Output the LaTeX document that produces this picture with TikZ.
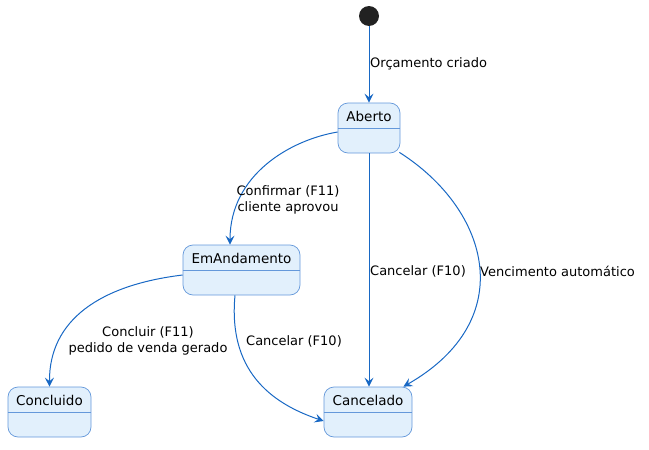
\documentclass[tikz,border=0pt]{standalone}
\usepackage{fontspec}
\setmainfont{DejaVu Sans}
\usetikzlibrary{arrows.meta}
\definecolor{sfill}{RGB}{226,240,252}
\definecolor{sborder}{RGB}{100,152,218}
\definecolor{sline}{RGB}{24,104,196}
\begin{document}
\begin{tikzpicture}[x=1pt,y=-1pt,
  statebox/.style={draw=sborder, fill=sfill, rounded corners=10pt, minimum height=50pt, inner sep=0pt, line width=0.7pt},
  stitle/.style={font=\fontsize{13.5}{16}\selectfont, inner sep=0pt, anchor=center},
  sep/.style={draw=sborder, line width=0.7pt},
  edge/.style={draw=sline, line width=1pt, -{Stealth[length=9pt,width=9pt,inset=3.5pt]}},
  elabel/.style={font=\fontsize{13}{16}\selectfont, inner sep=0pt, align=center}]
\useasboundingbox (0,0) rectangle (649,450);
% initial
\node[circle, fill={rgb,255:red,34;green,34;blue,34}, minimum size=20pt, inner sep=0pt] (init) at (369,16) {};
% states
\node[statebox, minimum width=62pt] (ab) at (369,128) {};
\draw[sep] (ab.west) -- (ab.east);
\node[stitle] (abt) at (369,116) {Aberto};
\node[statebox, minimum width=117pt] (em) at (241.5,270) {};
\draw[sep] (em.west) -- (em.east);
\node[stitle] (emt) at (241.5,258) {EmAndamento};
\node[statebox, minimum width=83pt] (co) at (49.5,412) {};
\draw[sep] (co.west) -- (co.east);
\node[stitle] (cot) at (49.5,400) {Concluido};
\node[statebox, minimum width=88pt] (ca) at (368,412) {};
\draw[sep] (ca.west) -- (ca.east);
\node[stitle] (cat) at (368,400) {Cancelado};
% coordinates
\coordinate (abw) at ([yshift=-4pt]ab.west);
\coordinate (abs) at (ab.south);
\coordinate (abse) at ([xshift=-1pt,yshift=1pt]ab.south east);
\coordinate (emn) at ([xshift=-11.5pt]em.north);
\coordinate (emw) at ([yshift=-5pt]em.west);
\coordinate (ems) at ([xshift=-6.5pt]em.south);
\coordinate (con) at (co.north);
\coordinate (can) at (ab.south |- ca.north);
\coordinate (cane) at ([xshift=-9pt]ca.north east);
\coordinate (caw) at ([yshift=-9pt]ca.west);
% edges
\draw[edge] (init) -- (ab);
\node[elabel, anchor=west] (l1) at (370,64) {Orçamento criado};
\draw[edge] (abw) .. controls (290,140) and (230,175) .. (emn);
\node[elabel] (l2) at (288,200) {Confirmar (F11)\\cliente aprovou};
\draw[edge] (abs) -- (can);
\node[elabel, anchor=west] (l3) at (370,271) {Cancelar (F10)};
\draw[edge] (abse) .. controls (490,210) and (520,320) .. (cane);
\node[elabel, anchor=west] (l4) at (480,271) {Vencimento automático};
\draw[edge] (emw) .. controls (100,285) and (49,320) .. (con);
\node[elabel] (l5) at (148,341) {Concluir (F11)\\pedido de venda gerado};
\draw[edge] (ems) .. controls (228,370) and (270,403) .. (caw);
\node[elabel, anchor=west] (l6) at (246,341) {Cancelar (F10)};
\end{tikzpicture}
\end{document}
